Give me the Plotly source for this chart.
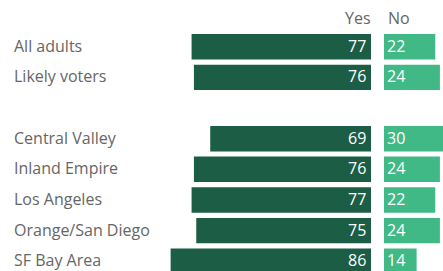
import plotly.graph_objects as go

categories = ["All adults", "Likely voters", " ", "Central Valley", "Inland Empire",
              "Los Angeles", "Orange/San Diego", "SF Bay Area"]
yes_values = [77, 76, None, 69, 76, 77, 75, 86]
no_values = [22, 24, None, 30, 24, 22, 24, 14]

W, H = 443, 271
DARK = "#1b5e45"
LIGHT = "#41b987"
GRAY = "#666666"
FONT = "Open Sans, Lato, sans-serif"
FS = 16

px_per_unit = 2.33
yes_zero_px = 371
no_zero_px = 384

fig = go.Figure()
fig.add_trace(go.Bar(y=categories, x=yes_values, orientation="h", xaxis="x", yaxis="y",
                     marker=dict(color=DARK, line=dict(width=0)), width=0.83, hoverinfo="skip"))
fig.add_trace(go.Bar(y=categories, x=no_values, orientation="h", xaxis="x2", yaxis="y",
                     marker=dict(color=LIGHT, line=dict(width=0)), width=0.83, hoverinfo="skip"))

annotations = []
for c, yv, nv in zip(categories, yes_values, no_values):
    if yv is None:
        continue
    annotations.append(dict(xref="paper", yref="y", x=13 / W, y=c, text=c, showarrow=False,
                            xanchor="left", yanchor="middle", xshift=-1, yshift=1,
                            font=dict(family=FONT, size=FS, color=GRAY)))
    annotations.append(dict(xref="x", yref="y", x=0, y=c, text=str(yv), showarrow=False,
                            xanchor="right", yanchor="middle", xshift=-3, yshift=1,
                            font=dict(family=FONT, size=FS, color="white")))
    annotations.append(dict(xref="x2", yref="y", x=0, y=c, text=str(nv), showarrow=False,
                            xanchor="left", yanchor="middle", xshift=1, yshift=1,
                            font=dict(family=FONT, size=FS, color="white")))

row_top = -1.524
row_bot = 7.318
annotations.append(dict(xref="x", yref="y", x=0, y=-0.93, text="Yes", showarrow=False,
                        xanchor="right", yanchor="middle", xshift=2,
                        font=dict(family=FONT, size=FS, color=GRAY)))
annotations.append(dict(xref="x2", yref="y", x=0, y=-0.93, text="No", showarrow=False,
                        xanchor="left", yanchor="middle", xshift=2,
                        font=dict(family=FONT, size=FS, color=GRAY)))

fig.update_layout(
    width=W, height=H, margin=dict(l=0, r=0, t=0, b=0),
    paper_bgcolor="white", plot_bgcolor="white", showlegend=False, barmode="overlay",
    xaxis=dict(domain=[0, yes_zero_px / W], range=[yes_zero_px / px_per_unit, 0],
               visible=False, fixedrange=True),
    xaxis2=dict(domain=[no_zero_px / W, 1], range=[0, (W - no_zero_px) / px_per_unit],
                visible=False, fixedrange=True),
    yaxis=dict(type="category", categoryorder="array", categoryarray=categories,
               range=[row_bot, row_top], visible=False, fixedrange=True),
    annotations=annotations,
)
fig.write_html("out.html", config={"displayModeBar": False},
               post_script="document.body.style.margin='0';document.body.style.overflow='hidden';")
